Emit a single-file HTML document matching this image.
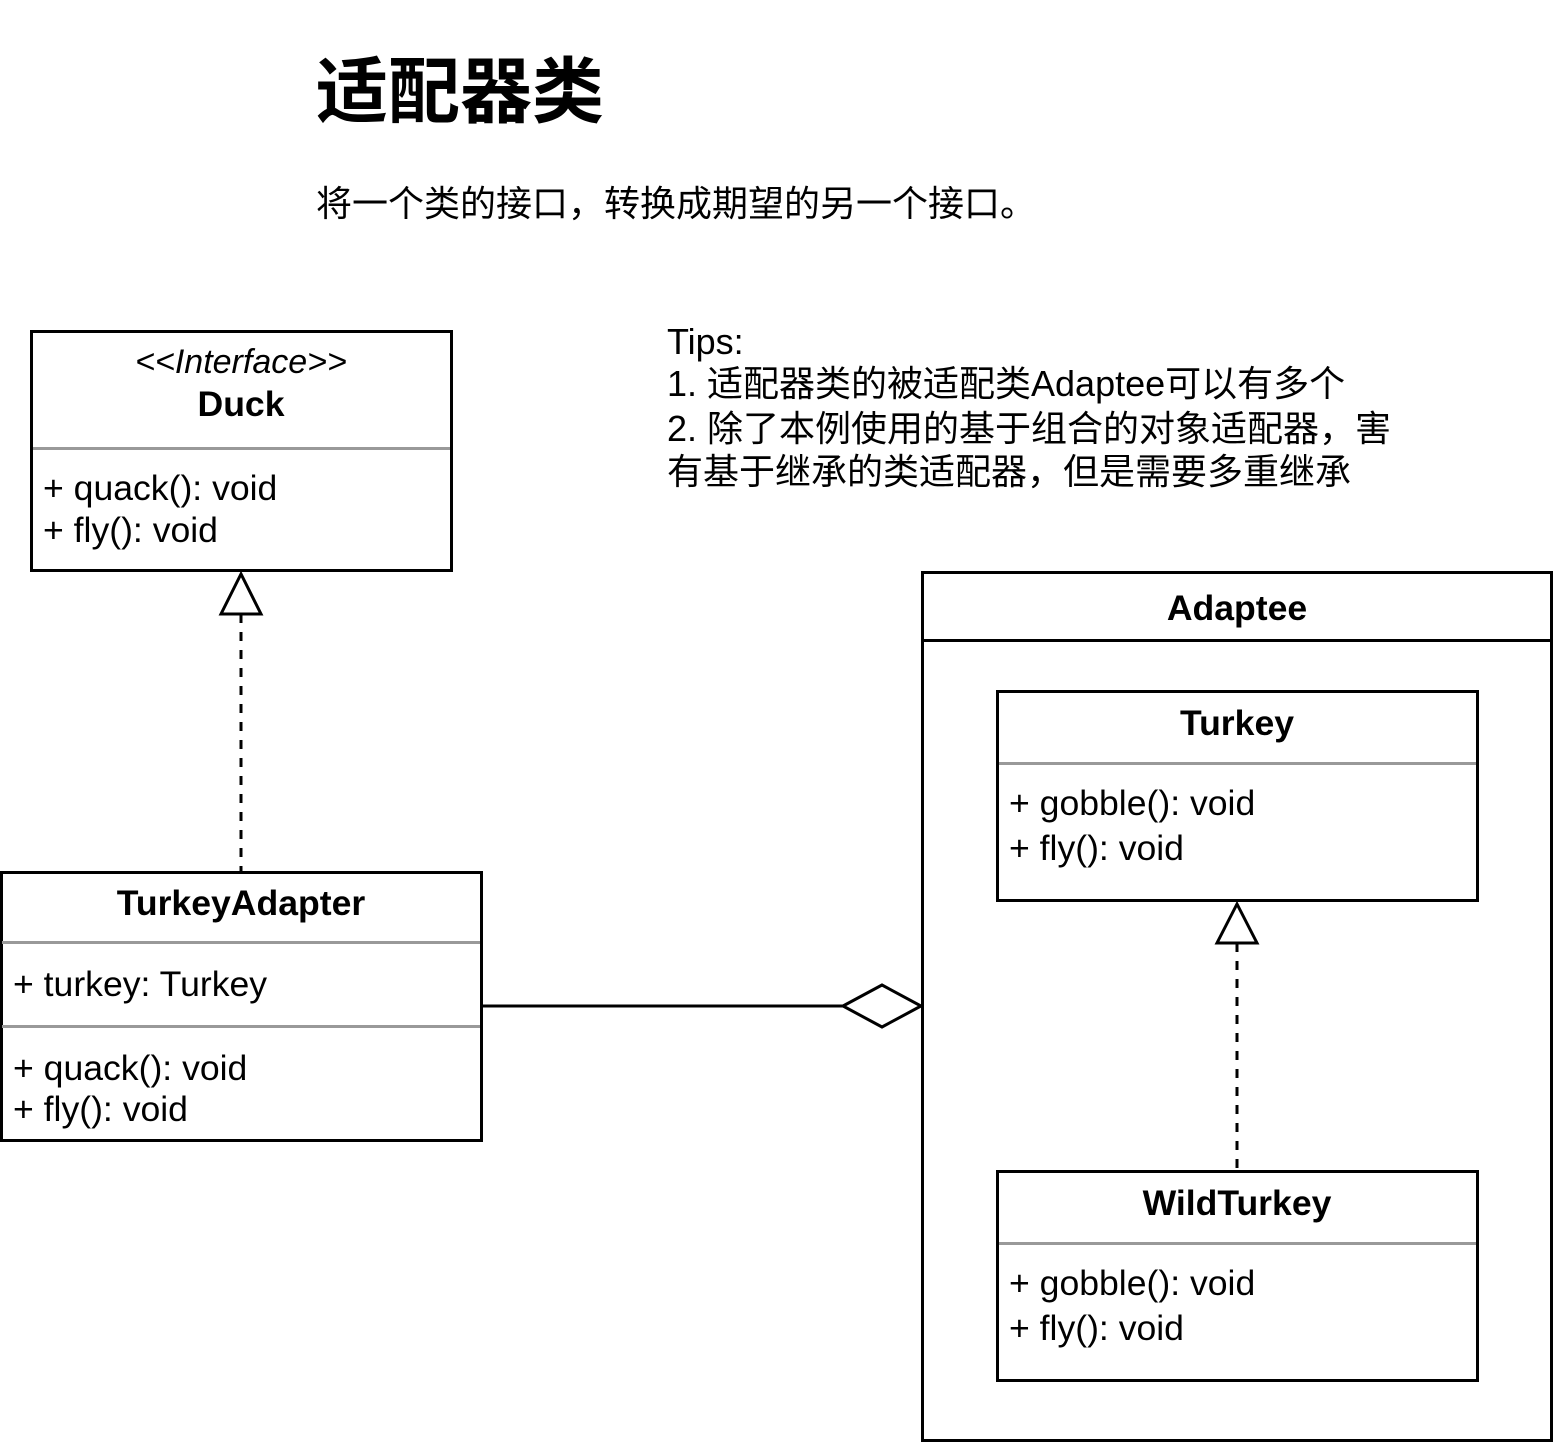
<!DOCTYPE html>
<html><head><meta charset="utf-8"><style>
html,body{margin:0;padding:0;background:#fff;width:1554px;height:1443px;overflow:hidden}
svg text{font-family:"Liberation Sans","Noto Sans CJK SC",sans-serif;fill:#000}
</style></head><body>
<svg width="1554" height="1443" viewBox="0 0 1554 1443" xmlns="http://www.w3.org/2000/svg">
<text x="316" y="117" font-size="72" font-weight="bold">适配器类</text>
<text x="316" y="216" font-size="36">将一个类的接口，转换成期望的另一个接口。</text>
<g font-size="36">
<text x="667" y="354">Tips:</text>
<text x="667" y="396">1. 适配器类的被适配类Adaptee可以有多个</text>
<text x="667" y="441">2. 除了本例使用的基于组合的对象适配器，害</text>
<text x="667" y="484">有基于继承的类适配器，但是需要多重继承</text>
</g>
<!-- Duck -->
<rect x="31.5" y="331.5" width="420" height="239" fill="none" stroke="#000" stroke-width="3"/>
<line x1="33" y1="448.5" x2="450" y2="448.5" stroke="#999" stroke-width="3"/>
<text x="241" y="373" font-size="34" font-style="italic" text-anchor="middle">&lt;&lt;Interface&gt;&gt;</text>
<text x="241" y="416" font-size="35.6" font-weight="bold" text-anchor="middle">Duck</text>
<text x="43" y="500" font-size="35.6">+ quack(): void</text>
<text x="43" y="542" font-size="35.6">+ fly(): void</text>
<polygon points="241,574 221,614 261,614" fill="#fff" stroke="#000" stroke-width="3"/>
<line x1="241" y1="614" x2="241" y2="871" stroke="#000" stroke-width="3" stroke-dasharray="9,9"/>
<!-- TurkeyAdapter -->
<rect x="1.5" y="872.5" width="480" height="268" fill="none" stroke="#000" stroke-width="3"/>
<line x1="2" y1="942.5" x2="480" y2="942.5" stroke="#999" stroke-width="3"/>
<line x1="2" y1="1026.5" x2="480" y2="1026.5" stroke="#999" stroke-width="3"/>
<text x="241" y="915" font-size="35.6" font-weight="bold" text-anchor="middle">TurkeyAdapter</text>
<text x="13" y="996" font-size="35.6">+ turkey: Turkey</text>
<text x="13" y="1080" font-size="35.6">+ quack(): void</text>
<text x="13" y="1121" font-size="35.6">+ fly(): void</text>
<line x1="482" y1="1006" x2="843" y2="1006" stroke="#000" stroke-width="3"/>
<polygon points="843,1006 882,985 921,1006 882,1027" fill="#fff" stroke="#000" stroke-width="3"/>
<!-- Adaptee -->
<rect x="922.5" y="572.5" width="629" height="868" fill="none" stroke="#000" stroke-width="3"/>
<line x1="922" y1="640.5" x2="1552" y2="640.5" stroke="#000" stroke-width="3"/>
<text x="1237" y="620" font-size="35.6" font-weight="bold" text-anchor="middle">Adaptee</text>
<!-- Turkey -->
<rect x="997.5" y="691.5" width="480" height="209" fill="none" stroke="#000" stroke-width="3"/>
<line x1="999" y1="763.5" x2="1476" y2="763.5" stroke="#999" stroke-width="3"/>
<text x="1237" y="735" font-size="35.6" font-weight="bold" text-anchor="middle">Turkey</text>
<text x="1009" y="815" font-size="35.6">+ gobble(): void</text>
<text x="1009" y="860" font-size="35.6">+ fly(): void</text>
<polygon points="1237,904 1217,943 1257,943" fill="#fff" stroke="#000" stroke-width="3"/>
<line x1="1237" y1="943" x2="1237" y2="1171" stroke="#000" stroke-width="3" stroke-dasharray="9,9"/>
<!-- WildTurkey -->
<rect x="997.5" y="1171.5" width="480" height="209" fill="none" stroke="#000" stroke-width="3"/>
<line x1="999" y1="1243.5" x2="1476" y2="1243.5" stroke="#999" stroke-width="3"/>
<text x="1237" y="1215" font-size="35.6" font-weight="bold" text-anchor="middle">WildTurkey</text>
<text x="1009" y="1295" font-size="35.6">+ gobble(): void</text>
<text x="1009" y="1340" font-size="35.6">+ fly(): void</text>
</svg>
</body></html>
